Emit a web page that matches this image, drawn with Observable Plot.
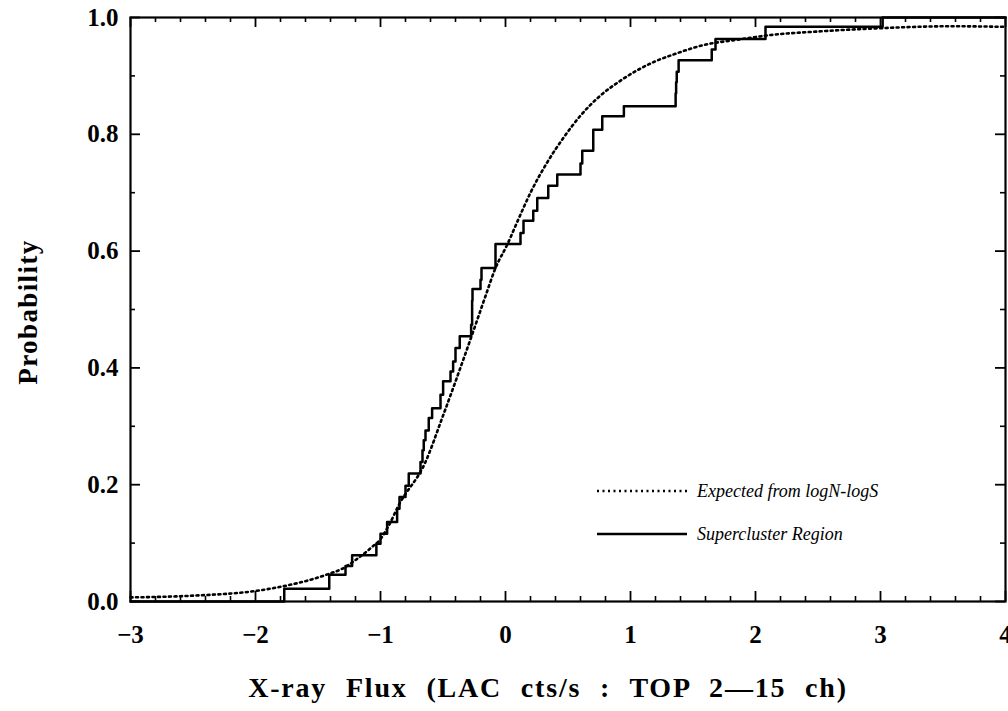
<!DOCTYPE html>
<html>
<head>
<meta charset="utf-8">
<script src="https://cdn.jsdelivr.net/npm/d3@7"></script>
<script src="https://cdn.jsdelivr.net/npm/@observablehq/plot@0.6"></script>
<style>
  html, body { margin: 0; padding: 0; background: #fff; }
  #chart { position: relative; width: 1008px; height: 711px; }
</style>
</head>
<body>
<div id="chart"></div>
<script>
// Supercluster Region: empirical cumulative distribution (step points: x where it jumps, value after jump)
const stepX = [-3, -1.77, -1.41, -1.28, -1.227, -1.033, -1.0, -0.947, -0.867, -0.848, -0.8, -0.774,
  -0.68, -0.664, -0.654, -0.64, -0.614, -0.587, -0.52, -0.499, -0.44, -0.419, -0.4, -0.366,
  -0.275, -0.267, -0.267, -0.264, -0.2, -0.192, -0.08, -0.08, 0.12, 0.144, 0.222, 0.254,
  0.342, 0.414, 0.6, 0.614, 0.702, 0.702, 0.774, 0.947, 1.361, 1.365, 1.37, 1.385,
  1.65, 1.68, 2.08, 3.017, 4];
const stepY = [0, 0.022, 0.046, 0.061, 0.079, 0.099, 0.116, 0.136, 0.159, 0.179, 0.198, 0.219,
  0.239, 0.259, 0.276, 0.293, 0.314, 0.331, 0.354, 0.377, 0.394, 0.411, 0.434, 0.454,
  0.474, 0.494, 0.515, 0.535, 0.551, 0.571, 0.592, 0.612, 0.631, 0.652, 0.669, 0.691,
  0.712, 0.731, 0.750, 0.772, 0.790, 0.808, 0.831, 0.848, 0.870, 0.889, 0.907, 0.927,
  0.945, 0.963, 0.984, 1.0, 1.0];

// Expected from logN-logS (smooth curve)
const expX = [-3, -2.5, -2, -1.88, -1.417, -1.307, -1.187, -1.081, -1.0, -0.934, -0.854, -0.64,
  -0.507, -0.267, -0.16, -0.08, 0.016, 0.094, 0.2, 0.334, 0.467, 0.6, 0.747, 0.921,
  1.188, 1.348, 1.588, 1.855, 2.122, 2.496, 3.03, 3.56, 4.0];
const expY = [0.007, 0.010, 0.018, 0.022, 0.047, 0.056, 0.073, 0.091, 0.107, 0.130, 0.165, 0.239,
  0.314, 0.457, 0.523, 0.571, 0.612, 0.650, 0.700, 0.752, 0.795, 0.832, 0.864, 0.892,
  0.924, 0.937, 0.953, 0.962, 0.970, 0.976, 0.982, 0.985, 0.984];

const xMajor = [-3, -2, -1, 0, 1, 2, 3, 4];
const yMajor = [0, 0.2, 0.4, 0.6, 0.8, 1.0];
const xMinor = d3.range(-3, 4.001, 0.2).filter(v => Math.abs(v - Math.round(v)) > 1e-6);
const yMinor = [0.1, 0.3, 0.5, 0.7, 0.9];

const seriesNames = ["Expected from logN-logS", "Supercluster Region"];
const xTitle = "X-ray Flux (LAC cts/s : TOP 2\u201415 ch)";
const yTitle = "Probability";

const stepData = stepX.map((x, i) => ({x, y: stepY[i]}));
const expData = expX.map((x, i) => ({x, y: expY[i]}));

const W = 1008, H = 711;
const mL = 130, mR = 3, mT = 17, mB = 110;
const iW = W - mL - mR, iH = H - mT - mB;
const serif = "'Liberation Serif', 'DejaVu Serif', serif";
const dots = "2,3.5";

const plot = Plot.plot({
  width: W, height: H,
  marginLeft: mL, marginRight: mR, marginTop: mT, marginBottom: mB,
  style: {fontFamily: serif, background: "#fff", overflow: "visible"},
  x: {domain: [-3, 4]},
  y: {domain: [0, 1]},
  marks: [
    Plot.line(expData, {x: "x", y: "y", curve: "monotone-x", stroke: "#000", strokeWidth: 2.6, strokeDasharray: dots}),
    Plot.line(stepData, {x: "x", y: "y", curve: "step-after", stroke: "#000", strokeWidth: 2.5}),
    // ticks, inward on all four sides
    Plot.tickX(xMinor, {x: d => d, insetTop: iH - 5, stroke: "#000", strokeWidth: 1.6}),
    Plot.tickX(xMajor, {x: d => d, insetTop: iH - 10, stroke: "#000", strokeWidth: 1.8}),
    Plot.tickX(xMinor, {x: d => d, insetBottom: iH - 5, stroke: "#000", strokeWidth: 1.6}),
    Plot.tickX(xMajor, {x: d => d, insetBottom: iH - 10, stroke: "#000", strokeWidth: 1.8}),
    Plot.tickY(yMinor, {y: d => d, insetRight: iW - 5, stroke: "#000", strokeWidth: 1.6}),
    Plot.tickY(yMajor, {y: d => d, insetRight: iW - 10, stroke: "#000", strokeWidth: 1.8}),
    Plot.tickY(yMinor, {y: d => d, insetLeft: iW - 5, stroke: "#000", strokeWidth: 1.6}),
    Plot.tickY(yMajor, {y: d => d, insetLeft: iW - 10, stroke: "#000", strokeWidth: 1.8}),
    Plot.frame({stroke: "#000", strokeWidth: 2.2}),
    Plot.axisX({ticks: xMajor, tickSize: 0, tickPadding: 24, fontSize: 25, fontWeight: "bold", label: null, tickFormat: d => d < 0 ? "\u2212" + Math.abs(d) : String(d)}),
    Plot.axisY({ticks: yMajor, tickSize: 0, tickPadding: 12, fontSize: 25, fontWeight: "bold", label: null, tickFormat: d3.format(".1f")})
  ]
});

document.getElementById("chart").appendChild(plot);

const svg = d3.select(plot);

// axis titles
svg.append("text")
  .attr("x", 548).attr("y", 697)
  .attr("text-anchor", "middle")
  .attr("font-family", serif).attr("font-weight", "bold").attr("font-size", 28)
  .attr("word-spacing", 10).attr("letter-spacing", 1.8)
  .attr("fill", "#000")
  .text(xTitle);
svg.append("text")
  .attr("transform", "translate(37,312) rotate(-90)")
  .attr("text-anchor", "middle")
  .attr("font-family", serif).attr("font-weight", "bold").attr("font-size", 27)
  .attr("letter-spacing", 1.4)
  .attr("fill", "#000")
  .text(yTitle);

// legend
const lg = svg.append("g");
const legendRows = [
  {name: seriesNames[0], dash: dots, y: 491},
  {name: seriesNames[1], dash: null, y: 534}
];
legendRows.forEach(r => {
  lg.append("line").attr("x1", 597).attr("x2", 687).attr("y1", r.y).attr("y2", r.y)
    .attr("stroke", "#000").attr("stroke-width", r.dash ? 2.6 : 2.3)
    .attr("stroke-dasharray", r.dash);
  lg.append("text").attr("x", 697).attr("y", r.y).attr("dy", "0.35em")
    .attr("text-anchor", "start")
    .attr("font-family", serif).attr("font-style", "italic").attr("font-size", 18)
    .attr("fill", "#000")
    .text(r.name);
});
</script>
</body>
</html>
